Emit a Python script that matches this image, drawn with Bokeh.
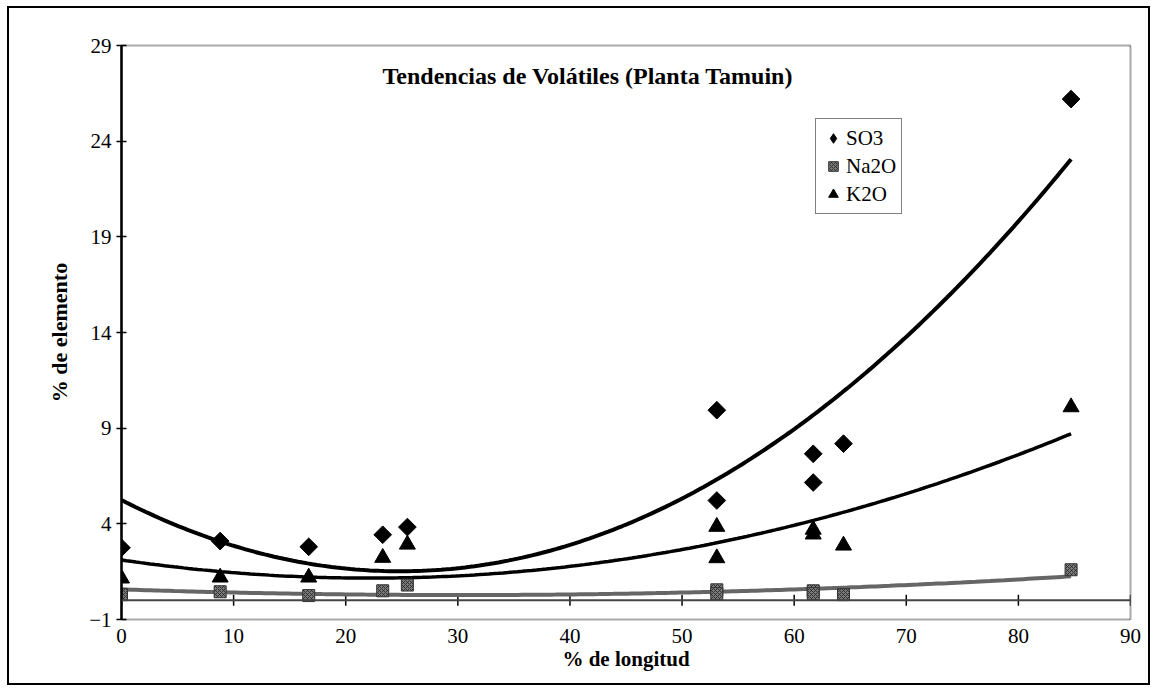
import numpy as np
from bokeh.plotting import figure
from bokeh.models import (ColumnDataSource, FixedTicker, Label, Span,
                          Legend, LegendItem, Range1d)
from bokeh.embed import file_html
from bokeh.resources import INLINE

# ---- data ----
longitud = [0, 8.8, 16.7, 23.3, 25.5, 53.1, 53.1, 61.7, 61.7, 64.4, 84.7]
so3 = [2.75, 3.1, 2.8, 3.43, 3.83, 9.94, 5.22, 7.66, 6.16, 8.19, 26.2]
na2o = [0.3, 0.45, 0.25, 0.5, 0.8, 0.55, 0.35, 0.5, 0.35, 0.3, 1.6]
k2o = [1.15, 1.2, 1.2, 2.23, 2.92, 3.85, 2.21, 3.7, 3.45, 2.87, 10.1]

x_ticks = [0, 10, 20, 30, 40, 50, 60, 70, 80, 90]
y_ticks = [-1, 4, 9, 14, 19, 24, 29]

title_text = "Tendencias de Volátiles (Planta Tamuin)"
x_label = "% de longitud"
y_label = "% de elemento"

SERIF = "Liberation Serif"

src = ColumnDataSource(dict(x=longitud, so3=so3, na2o=na2o, k2o=k2o))

# polynomial (order 2) trend lines, as in the original spreadsheet chart
xs = np.linspace(min(longitud), max(longitud), 200)
trend = {}
for name, vals in (("so3", so3), ("na2o", na2o), ("k2o", k2o)):
    c = np.polyfit(longitud, vals, 2)
    trend[name] = np.polyval(c, xs)
tsrc = ColumnDataSource(dict(x=xs, **trend))

p = figure(frame_width=1009, frame_height=574,
           min_border_left=112, min_border_right=18,
           min_border_top=37, min_border_bottom=64,
           x_range=Range1d(0, 90), y_range=Range1d(-1, 29),
           output_backend="svg", toolbar_location=None,
           background_fill_color="white", border_fill_color="white")
p.styles = {"border": "2px solid black", "margin-left": "7px",
            "margin-top": "6px"}

p.grid.visible = False
p.outline_line_color = "#555555"
p.outline_line_dash = "1 1"
p.outline_line_width = 2

# bottom axis: labels only
xa = p.xaxis[0]
xa.ticker = FixedTicker(ticks=x_ticks)
xa.axis_line_color = None
xa.major_tick_line_color = None
xa.minor_tick_line_color = None
xa.major_label_standoff = 3
xa.major_label_text_font = SERIF
xa.major_label_text_font_size = "21px"
xa.major_label_text_color = "black"
xa.axis_label = x_label
xa.axis_label_text_font = SERIF
xa.axis_label_text_font_style = "bold"
xa.axis_label_text_font_size = "21px"
xa.axis_label_standoff = 1
xa.axis_label_text_color = "black"

# horizontal axis line crossing at y = 0, with its tick marks
p.add_layout(Span(location=0, dimension="width", line_color="#444444",
                  line_width=2))
p.scatter(x=x_ticks, y=[0] * len(x_ticks), marker="dash", angle=np.pi / 2,
          size=11, line_color="black", line_width=1.5)

ya = p.yaxis[0]
ya.ticker = FixedTicker(ticks=y_ticks)
ya.axis_line_color = "black"
ya.axis_line_width = 2.5
ya.major_tick_line_color = "black"
ya.major_tick_line_width = 1.5
ya.major_tick_in = 5
ya.major_tick_out = 5
ya.minor_tick_line_color = None
ya.major_label_standoff = 5
ya.major_label_text_font = SERIF
ya.major_label_text_font_size = "21px"
ya.major_label_text_color = "black"
ya.axis_label = y_label
ya.axis_label_text_font = SERIF
ya.axis_label_text_font_style = "bold"
ya.axis_label_text_font_size = "22px"
ya.axis_label_standoff = 14
ya.axis_label_text_color = "black"

# trend lines
p.line("x", "na2o", source=tsrc, line_color="#666666", line_width=4)
p.line("x", "k2o", source=tsrc, line_color="black", line_width=3.5)
p.line("x", "so3", source=tsrc, line_color="black", line_width=4)

# points
r_na = p.scatter("x", "na2o", source=src, marker="square", size=12,
                 fill_color="#7a7a7a", line_color="#333333", line_width=1,
                 hatch_pattern="x", hatch_color="#222222", hatch_scale=4,
                 hatch_weight=0.8)
r_k = p.scatter("x", "k2o", source=src, marker="triangle", size=16,
                fill_color="black", line_color="black")
# diamond glyph (hidden under the rotated squares) that gives the legend key
r_s_key = p.scatter("x", "so3", source=src, marker="diamond", size=11,
                    fill_color="black", line_color="black")
r_s = p.scatter("x", "so3", source=src, marker="square", angle=np.pi / 4,
                size=12.5, fill_color="black", line_color="black")

legend = Legend(items=[LegendItem(label="SO3", renderers=[r_s_key]),
                       LegendItem(label="Na2O", renderers=[r_na]),
                       LegendItem(label="K2O", renderers=[r_k])],
                location=(694, 405))
legend.border_line_color = "black"
legend.border_line_width = 1.5
legend.background_fill_color = "white"
legend.background_fill_alpha = 1
legend.label_text_font = SERIF
legend.label_text_font_size = "21px"
legend.label_text_color = "black"
legend.glyph_width = 24
legend.glyph_height = 28
legend.label_height = 28
legend.spacing = 0
legend.padding = 5
legend.margin = 0
legend.label_standoff = 1
p.add_layout(legend, "center")

p.add_layout(Label(x=41.6, y=27.4, text=title_text, text_align="center",
                   text_baseline="middle", text_font=SERIF,
                   text_font_style="bold", text_font_size="24px",
                   text_color="black"))

open("out.html", "w").write(file_html(p, INLINE))
